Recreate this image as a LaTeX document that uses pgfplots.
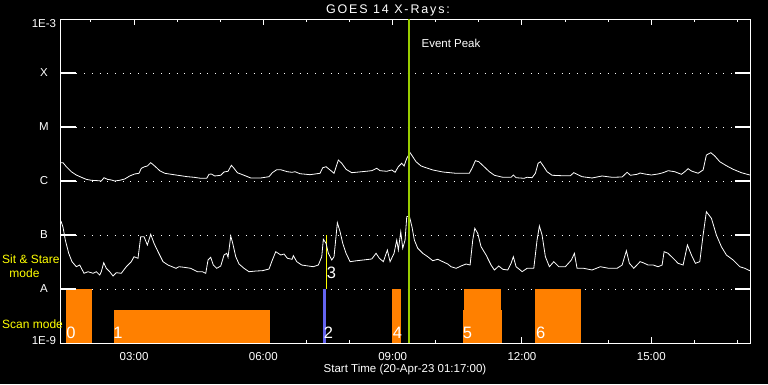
\documentclass[border=0pt]{standalone}
\usepackage{pgfplots}
\pgfplotsset{compat=1.18}
\usepackage{fontspec}
\setmainfont{Liberation Sans}
\definecolor{scanorange}{RGB}{255,128,0}
\definecolor{peakgreen}{RGB}{153,204,0}
\definecolor{sitblue}{RGB}{100,100,240}
\definecolor{modeyellow}{RGB}{255,255,0}
\begin{document}
\begin{tikzpicture}[font=\fontsize{11.5}{12}\selectfont]
\useasboundingbox (0,0) rectangle (768pt,384pt);
\fill[black] (0,0) rectangle (768pt,384pt);
\begin{axis}[
  at={(61pt,41pt)}, anchor=south west,
  scale only axis, width=689pt, height=324pt,
  xmin=1.306, xmax=17.29, ymin=-9, ymax=-3,
  axis line style={white, line width=1pt},
  tick align=inside,
  major tick length=6pt, minor tick length=3pt,
  xtick={3,6,9,12,15},
  xticklabels={03:00,06:00,09:00,12:00,15:00},
  minor xtick={2,4,5,7,8,10,11,13,14,16,17},
  every tick/.style={white, line width=1pt},
  xticklabel style={white, yshift=-6pt},
  ytick={-9,-8,-7,-6,-5,-4,-3},
  yticklabels={\raisebox{0pt}[8.3pt][5pt]{1E-9},A,B,C,M,X,\raisebox{0pt}[16pt][0pt]{1E-3}},
  ytick style={draw=none},
  yticklabel style={white, anchor=center, xshift=-17pt},
  ymajorgrids,
  major grid style={white, line width=1pt, dash pattern=on 1pt off 6.7pt},
]
% scan mode intervals
\addplot[fill=scanorange, draw=none] coordinates {(1.422,-9) (1.422,-8) (2.026,-8) (2.026,-9)};
\addplot[fill=scanorange, draw=none] coordinates {(2.536,-9) (2.536,-8.389) (6.155,-8.389) (6.155,-9)};
\addplot[fill=scanorange, draw=none] coordinates {(8.986,-9) (8.986,-8) (9.195,-8) (9.195,-9)};
\addplot[fill=scanorange, draw=none] coordinates {(10.633,-9) (10.633,-8.389) (11.538,-8.389) (11.538,-9)};
\addplot[fill=scanorange, draw=none] coordinates {(10.657,-9) (10.657,-8) (11.515,-8) (11.515,-9)};
\addplot[fill=scanorange, draw=none] coordinates {(12.304,-9) (12.304,-8) (13.371,-8) (13.371,-9)};
% sit & stare
\addplot[sitblue, line width=3pt] coordinates {(7.42,-9) (7.42,-8)};
\addplot[modeyellow, line width=1pt] coordinates {(7.46,-8) (7.46,-7)};
% long channel
\addplot[white, line width=0.8pt] coordinates {
(1.306,-5.661) (1.353,-5.661) (1.429,-5.735) (1.545,-5.828) (1.661,-5.889) (1.777,-5.931) (1.893,-5.969) (2.009,-5.987) (2.165,-5.994) (2.241,-6.000) (2.304,-5.939) (2.381,-5.969) (2.473,-5.981) (2.552,-6.000) (2.668,-5.987) (2.784,-5.963) (2.900,-5.907) (3.016,-5.870) (3.116,-5.857) (3.169,-5.765) (3.248,-5.735) (3.309,-5.722) (3.387,-5.661) (3.480,-5.722) (3.596,-5.809) (3.712,-5.857) (3.865,-5.876) (3.974,-5.889)
(4.084,-5.902) (4.237,-5.920) (4.392,-5.931) (4.548,-5.950) (4.687,-5.950) (4.740,-5.876) (4.794,-5.870) (4.872,-5.907) (5.012,-5.894) (5.088,-5.833) (5.181,-5.820) (5.258,-5.709) (5.320,-5.765) (5.397,-5.846) (5.552,-5.894) (5.708,-5.944) (5.940,-5.944) (6.132,-5.920) (6.209,-5.846) (6.311,-5.791) (6.404,-5.791) (6.557,-5.828) (6.666,-5.839)
(6.735,-5.828) (6.852,-5.865) (7.084,-5.883) (7.316,-5.857) (7.378,-5.754) (7.455,-5.735) (7.548,-5.796) (7.640,-5.857) (7.740,-5.611) (7.819,-5.672) (7.919,-5.783) (8.051,-5.846) (8.283,-5.828) (8.515,-5.809) (8.631,-5.765) (8.708,-5.809) (8.863,-5.820) (8.979,-5.796) (9.056,-5.839) (9.132,-5.735) (9.211,-5.672) (9.265,-5.722) (9.327,-5.580)
(9.404,-5.476) (9.466,-5.550) (9.543,-5.643) (9.659,-5.722) (9.814,-5.765) (9.930,-5.796) (10.162,-5.833) (10.471,-5.857) (10.780,-5.857) (10.858,-5.735) (10.919,-5.624) (10.998,-5.643) (11.104,-5.722) (11.244,-5.828) (11.360,-5.894) (11.555,-5.931) (11.747,-5.931) (11.800,-5.889) (11.863,-5.939) (12.049,-5.950)
(12.118,-5.931) (12.234,-5.939) (12.311,-5.857) (12.374,-5.672) (12.427,-5.643) (12.506,-5.735) (12.582,-5.828) (12.698,-5.894) (12.930,-5.902) (13.123,-5.902) (13.202,-5.846) (13.278,-5.876) (13.394,-5.920) (13.626,-5.944) (13.858,-5.907) (14.090,-5.931) (14.323,-5.926) (14.439,-5.839) (14.515,-5.894) (14.671,-5.876) (14.740,-5.852)
(14.849,-5.870) (15.002,-5.889) (15.158,-5.870) (15.274,-5.846) (15.390,-5.809) (15.545,-5.828) (15.698,-5.876) (15.777,-5.828) (15.854,-5.772) (15.931,-5.815) (16.086,-5.857) (16.202,-5.796) (16.278,-5.519) (16.381,-5.476) (16.473,-5.537) (16.589,-5.643) (16.742,-5.717) (16.898,-5.783) (17.090,-5.846) (17.285,-5.889)
};
% short channel
\addplot[white, line width=0.8pt] coordinates {
(1.306,-6.741) (1.353,-6.857) (1.406,-7.093) (1.485,-7.339) (1.561,-7.494) (1.661,-7.587) (1.740,-7.556) (1.840,-7.709) (1.933,-7.680) (2.049,-7.709) (2.125,-7.680) (2.204,-7.741) (2.241,-7.680) (2.297,-7.513) (2.357,-7.617) (2.436,-7.680) (2.513,-7.759) (2.589,-7.698) (2.705,-7.709) (2.821,-7.587) (2.937,-7.494) (3.000,-7.402) (3.093,-7.431) (3.155,-7.031) (3.232,-7.031) (3.309,-7.185) (3.387,-6.987) (3.464,-7.154) (3.557,-7.309) (3.673,-7.494) (3.789,-7.556) (3.974,-7.617)
(4.044,-7.587) (4.160,-7.598) (4.316,-7.617) (4.469,-7.680) (4.585,-7.680) (4.664,-7.709) (4.717,-7.463) (4.780,-7.413) (4.840,-7.556) (4.919,-7.617) (5.012,-7.574) (5.088,-7.370) (5.151,-7.339) (5.181,-7.413) (5.244,-7.019) (5.290,-7.154) (5.360,-7.402) (5.436,-7.537) (5.552,-7.617) (5.668,-7.680) (5.824,-7.667) (5.977,-7.661) (6.132,-7.630) (6.209,-7.463) (6.288,-7.309) (6.404,-7.370) (6.480,-7.352) (6.557,-7.431) (6.666,-7.450)
(6.696,-7.383) (6.775,-7.494) (6.891,-7.556) (7.044,-7.574) (7.160,-7.587) (7.276,-7.556) (7.355,-7.402) (7.392,-7.080) (7.455,-7.154) (7.508,-7.339) (7.587,-7.463) (7.640,-7.402) (7.717,-6.772) (7.780,-6.939) (7.842,-7.154) (7.919,-7.339) (8.012,-7.494) (8.167,-7.476) (8.320,-7.463) (8.515,-7.444) (8.615,-7.339) (8.691,-7.431) (8.784,-7.494) (8.877,-7.278) (8.940,-7.494) (9.032,-7.339) (9.095,-7.093) (9.132,-7.278) (9.188,-6.939) (9.234,-7.246) (9.288,-7.093) (9.327,-6.661)
(9.387,-6.648) (9.450,-6.857) (9.503,-7.093) (9.582,-7.246) (9.698,-7.339) (9.814,-7.402) (9.930,-7.476) (10.046,-7.450) (10.162,-7.494) (10.278,-7.537) (10.355,-7.587) (10.471,-7.617) (10.587,-7.574) (10.703,-7.537) (10.796,-7.556) (10.858,-7.093) (10.905,-6.876) (10.974,-6.969) (11.051,-7.217) (11.167,-7.370) (11.283,-7.556) (11.360,-7.648) (11.462,-7.574) (11.555,-7.635) (11.671,-7.648) (11.747,-7.524) (11.800,-7.402) (11.863,-7.587) (11.979,-7.661)
(12.002,-7.680) (12.118,-7.617) (12.274,-7.617) (12.350,-7.093) (12.404,-6.833) (12.466,-7.000) (12.543,-7.402) (12.636,-7.587) (12.738,-7.494) (12.854,-7.587) (13.007,-7.587) (13.146,-7.463) (13.216,-7.339) (13.278,-7.617) (13.434,-7.617) (13.626,-7.648) (13.819,-7.587) (14.014,-7.617) (14.206,-7.617) (14.323,-7.556) (14.422,-7.291) (14.492,-7.524) (14.594,-7.617) (14.740,-7.494)
(14.810,-7.513) (14.926,-7.556) (15.042,-7.556) (15.158,-7.587) (15.251,-7.556) (15.297,-7.309) (15.390,-7.339) (15.506,-7.431) (15.622,-7.524) (15.738,-7.556) (15.838,-7.185) (15.931,-7.370) (16.023,-7.524) (16.125,-7.494) (16.202,-7.000) (16.278,-6.569) (16.395,-6.691) (16.510,-7.000) (16.626,-7.217) (16.742,-7.370) (16.898,-7.463) (17.053,-7.587) (17.169,-7.617) (17.285,-7.661)
};
% event peak
\addplot[peakgreen, line width=2.5pt] coordinates {(9.376,-9) (9.376,-3)};
% long y ticks on both sides (14 px each)
\addplot[white, line width=1.3pt, line cap=rect, forget plot] coordinates {(1.306,-8) (1.64,-8)};
\addplot[white, line width=1.3pt, line cap=rect, forget plot] coordinates {(1.306,-7) (1.64,-7)};
\addplot[white, line width=1.3pt, line cap=rect, forget plot] coordinates {(1.306,-6) (1.64,-6)};
\addplot[white, line width=1.3pt, line cap=rect, forget plot] coordinates {(1.306,-5) (1.64,-5)};
\addplot[white, line width=1.3pt, line cap=rect, forget plot] coordinates {(1.306,-4) (1.64,-4)};
\addplot[white, line width=1.3pt, line cap=rect, forget plot] coordinates {(16.955,-8) (17.29,-8)};
\addplot[white, line width=1.3pt, line cap=rect, forget plot] coordinates {(16.955,-7) (17.29,-7)};
\addplot[white, line width=1.3pt, line cap=rect, forget plot] coordinates {(16.955,-6) (17.29,-6)};
\addplot[white, line width=1.3pt, line cap=rect, forget plot] coordinates {(16.955,-5) (17.29,-5)};
\addplot[white, line width=1.3pt, line cap=rect, forget plot] coordinates {(16.955,-4) (17.29,-4)};
% labels
\node[white, anchor=west] at (axis cs:9.589,-3.444) {Event Peak};
\begin{scope}[font=\fontsize{16.5}{17}\selectfont]
\node[white] at (axis cs:1.538,-8.815) {0};
\node[white] at (axis cs:2.629,-8.815) {1};
\node[white] at (axis cs:7.513,-8.815) {2};
\node[white] at (axis cs:7.582,-7.704) {3};
\node[white] at (axis cs:9.114,-8.815) {4};
\node[white] at (axis cs:10.738,-8.815) {5};
\node[white] at (axis cs:12.432,-8.815) {6};
\end{scope}
\end{axis}
\node[white, anchor=base] at (388pt,370.7pt) {\fontsize{12.5}{13}\selectfont\addfontfeature{LetterSpace=15}GOES 14 X-Rays:};
\node[white, anchor=base] at (405pt,12pt) {Start Time (20-Apr-23 01:17:00)};
\begin{scope}[font=\fontsize{12}{13}\selectfont]
\node[modeyellow, anchor=base west, inner sep=0pt] at (2pt,121pt) {Sit \& Stare};
\node[modeyellow, anchor=base, inner sep=0pt] at (24.5pt,107pt) {mode};
\node[modeyellow, anchor=base west, inner sep=0pt] at (2pt,56pt) {Scan mode};
\end{scope}
\end{tikzpicture}
\end{document}
